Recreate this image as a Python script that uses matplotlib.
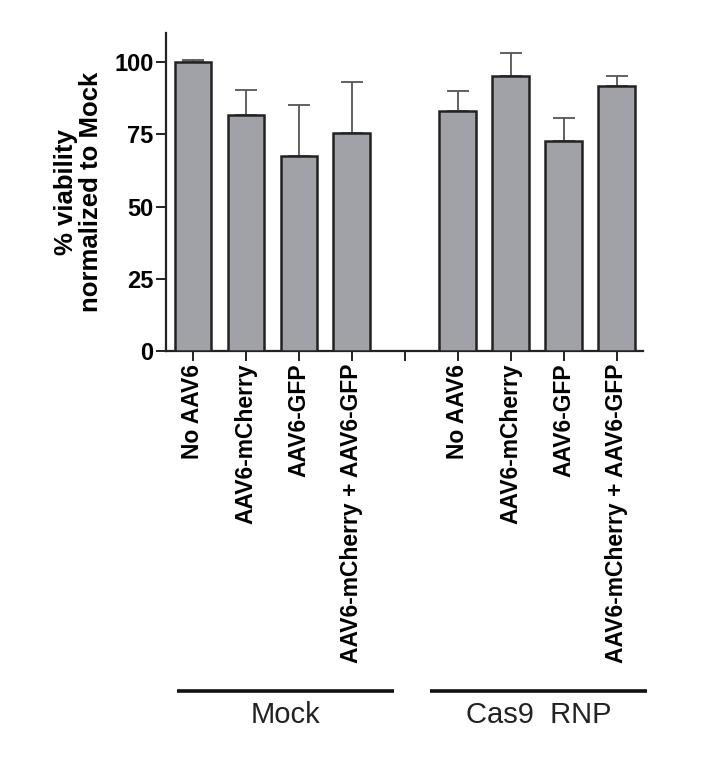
import matplotlib
matplotlib.use('Agg')
import matplotlib.pyplot as plt
import matplotlib.transforms as mtransforms
import numpy as np

plt.rcParams['font.family'] = ['Liberation Sans', 'DejaVu Sans']

# data
labels = ['No AAV6', 'AAV6-mCherry', 'AAV6-GFP', 'AAV6-mCherry + AAV6-GFP']
mock_vals = [100.0, 81.6, 67.4, 75.4]
mock_err = [0.9, 8.9, 17.8, 17.8]
cas9_vals = [83.2, 95.1, 72.8, 91.9]
cas9_err = [6.7, 8.0, 7.9, 3.4]
groups = ['Mock', 'Cas9  RNP']

vals = mock_vals + [np.nan] + cas9_vals
errs = mock_err + [0] + cas9_err
ticklabels = labels + [''] + labels
x = np.arange(len(vals))

fig = plt.figure(figsize=(7.08, 7.74), dpi=100)
ax = fig.add_axes([0.2345, 0.5465, 0.6737, 0.4105])

bar_color = '#a0a2a8'
for xi, v, e in zip(x, vals, errs):
    if np.isnan(v):
        continue
    ax.bar(xi, v, width=0.68, color=bar_color, edgecolor='#222222', linewidth=1.8, zorder=3)
    ax.errorbar(xi, v, yerr=[[0], [e]], fmt='none', ecolor='#555555',
                elinewidth=1.3, capsize=8, capthick=1.3, zorder=2)

ax.set_xlim(-0.5, 8.5)
ax.set_ylim(0, 110)
ax.set_yticks([0, 25, 50, 75, 100])
ax.set_xticks(x)
ax.set_xticklabels(ticklabels, rotation=90, fontsize=16.5, fontweight='bold')
for t in ax.get_yticklabels():
    t.set_fontsize(17)
    t.set_fontweight('bold')
ax.set_ylabel('% viability\nnormalized to Mock', fontsize=18.5, fontweight='bold',
              labelpad=8, linespacing=1.05)

ax.spines['top'].set_visible(False)
ax.spines['right'].set_visible(False)
for s in ['left', 'bottom']:
    ax.spines[s].set_linewidth(1.6)
    ax.spines[s].set_color('#222222')
ax.tick_params(axis='both', direction='out', length=7, width=1.4, color='#222222')
ax.tick_params(axis='x', pad=2)
ax.tick_params(axis='y', pad=2)

# group brackets below the rotated labels
trans = mtransforms.blended_transform_factory(ax.transData, fig.transFigure)
spans = [(-0.29, 3.80), (4.48, 8.58)]
for (a, b), name in zip(spans, groups):
    ax.plot([a, b], [1 - 691 / 774] * 2, color='#111111', linewidth=2.6,
            transform=trans, clip_on=False, solid_capstyle='butt')
    ax.text((a + b) / 2, 1 - 715 / 774, name, transform=trans, ha='center', va='center',
            fontsize=21, color='#222222')

fig.savefig('out.png', dpi=100)
